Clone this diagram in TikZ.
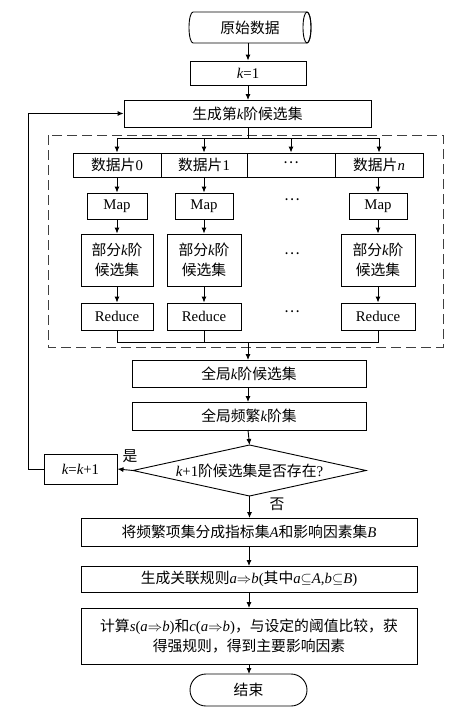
\documentclass[tikz,border=0pt]{standalone}
\usepackage{fontspec}
\setmainfont{Liberation Serif}
\newfontfamily\cjk{Noto Sans CJK SC}
\usetikzlibrary{arrows.meta}
\newcommand{\vi}[1]{{\rmfamily\itshape #1}}
\newcommand{\lt}[1]{{\rmfamily #1}}
\begin{document}
\begin{tikzpicture}[x=1pt,y=1pt,
  every node/.style={font=\fontsize{14.8}{20}\selectfont\cjk},
  box/.style={draw,line width=0.9pt,inner sep=0pt,align=center},
  lab/.style={inner sep=0pt},
  ln/.style={line width=0.9pt},
  arr/.style={line width=0.9pt,-{Latex[length=6pt,width=5pt]}}]
\useasboundingbox (0,0) rectangle (461,-715);
% start cylinder
\node[lab,minimum width=114,minimum height=31] (src) at (250,-27.5) {原始数据};
\draw[ln] (193,-12) -- (307,-12) arc[start angle=90,end angle=-90,x radius=4,y radius=15.5]
  -- (193,-43) arc[start angle=270,end angle=90,x radius=4,y radius=15.5];
\draw[ln] (307,-27.5) ellipse[x radius=4,y radius=15.5];
\node[box,minimum width=116,minimum height=24] (k1) at (248,-73) {\vi{k}\lt{=1}};
\node[box,minimum width=247,minimum height=27] (gen) at (247.5,-113.5) {生成第\vi{k}阶候选集};
% dashed region
\draw[line width=0.9pt,black!75,dash pattern=on 10pt off 5pt] (48,-135) rectangle (443,-347);
% data cells
\node[box,minimum width=88,minimum height=24] (d0) at (117,-165) {数据片\lt{0}};
\node[box,minimum width=86,minimum height=24] (d1) at (204,-165) {数据片\lt{1}};
\node[box,minimum width=88,minimum height=24] (d2) at (291,-165) {};
\node[lab] (d2t) at (291,-163) {…};
\node[box,minimum width=88,minimum height=24] (d3) at (379,-165) {数据片\vi{n}};
% map
\node[box,minimum width=60,minimum height=26] (m0) at (117,-206) {\lt{Map}};
\node[box,minimum width=58,minimum height=26] (m1) at (204,-206) {\lt{Map}};
\node[lab] (m2) at (292,-200) {…};
\node[box,minimum width=58,minimum height=26] (m3) at (378,-206) {\lt{Map}};
% partial
\node[box,minimum width=72,minimum height=52] (p0) at (117,-260) {部分\vi{k}阶\\候选集};
\node[box,minimum width=74,minimum height=52] (p1) at (204,-260) {部分\vi{k}阶\\候选集};
\node[lab] (p2) at (292,-254) {…};
\node[box,minimum width=74,minimum height=52] (p3) at (378,-260) {部分\vi{k}阶\\候选集};
% reduce
\node[box,minimum width=72,minimum height=27] (r0) at (117,-316.5) {\lt{Reduce}};
\node[box,minimum width=74,minimum height=27] (r1) at (204,-316.5) {\lt{Reduce}};
\node[lab] (r2) at (292,-312) {…};
\node[box,minimum width=74,minimum height=27] (r3) at (378,-316.5) {\lt{Reduce}};
% global
\node[box,minimum width=234,minimum height=27] (g1) at (249,-373.5) {全局\vi{k}阶候选集};
\node[box,minimum width=234,minimum height=28] (g2) at (249,-416) {全局频繁\vi{k}阶集};
% diamond
\coordinate (dt) at (249.5,-445);
\coordinate (db) at (249.5,-496);
\coordinate (dl) at (133,-470.5);
\coordinate (dr) at (366,-470.5);
\draw[ln] (dt) -- (dr) -- (db) -- (dl) -- cycle;
\node[lab] (dia) at (249.5,-470.5) {\vi{k}\lt{+1}阶候选集是否存在\lt{?}};
\node[box,minimum width=73,minimum height=30] (kk) at (80.5,-469) {\vi{k}\lt{=}\vi{k}\lt{+1}};
\node[lab] (yes) at (130,-456) {是};
\node[lab] (no) at (277,-504) {否};
% lower boxes
\node[box,minimum width=336,minimum height=28] (s1) at (249,-532) {将频繁项集分成指标集\vi{A}和影响因素集\vi{B}};
\node[box,minimum width=336,minimum height=26] (s2) at (249,-579) {生成关联规则\vi{a}$\Rightarrow$\vi{b}\lt{(}其中\vi{a}$\subseteq$\vi{A}\lt{,}\vi{b}$\subseteq$\vi{B}\lt{)}};
\node[box,minimum width=336,minimum height=56] (s3) at (249,-636) {计算\vi{s}\lt{(}\vi{a}$\Rightarrow$\vi{b}\lt{)}和\vi{c}\lt{(}\vi{a}$\Rightarrow$\vi{b}\lt{)}，与设定的阈值比较，获\\得强规则，得到主要影响因素};
\node[box,rounded corners=16pt,minimum width=117,minimum height=32] (end) at (248.5,-690) {结束};
% connectors
\draw[arr] (248,-43) -- (k1.north);
\draw[arr] (k1) -- (248,-100);
\coordinate (sp) at (248,-138);
\draw[ln] (248,-127) -- (sp);
\draw[ln] (117,-138) -- (379,-138);
\draw[arr] (117,-138) -- (d0.north);
\draw[arr] (204,-138) -- (d1.north);
\draw[arr] (291,-138) -- (d2.north);
\draw[arr] (379,-138) -- (d3.north);
\draw[arr] (117,-177) -- (m0.north);
\draw[arr] (204,-177) -- (m1.north);
\draw[arr] (378,-177) -- (m3.north);
\draw[arr] (m0) -- (p0);
\draw[arr] (m1) -- (p1);
\draw[arr] (m3) -- (p3);
\draw[arr] (p0) -- (r0);
\draw[arr] (p1) -- (r1);
\draw[arr] (p3) -- (r3);
\coordinate (mg) at (248,-342);
\draw[ln] (r0.south) -- (117,-342) -- (378,-342) -- (r3.south);
\draw[ln] (r1.south) -- (204,-342);
\draw[arr] (mg) -- (248,-360);
\draw[arr] (248,-387) -- (248,-402);
\draw[arr] (248,-430) -- (dt);
\draw[arr] (dl) -- (kk.east);
\draw[arr] (kk.west) -- (28,-469) -- (28,-113.5) -- (gen.west);
\draw[arr] (db) -- (249.5,-518);
\draw[arr] (249,-546) -- (249,-566);
\draw[arr] (249,-592) -- (249,-608);
\draw[arr] (249,-664) -- (249,-674);
\end{tikzpicture}
\end{document}
